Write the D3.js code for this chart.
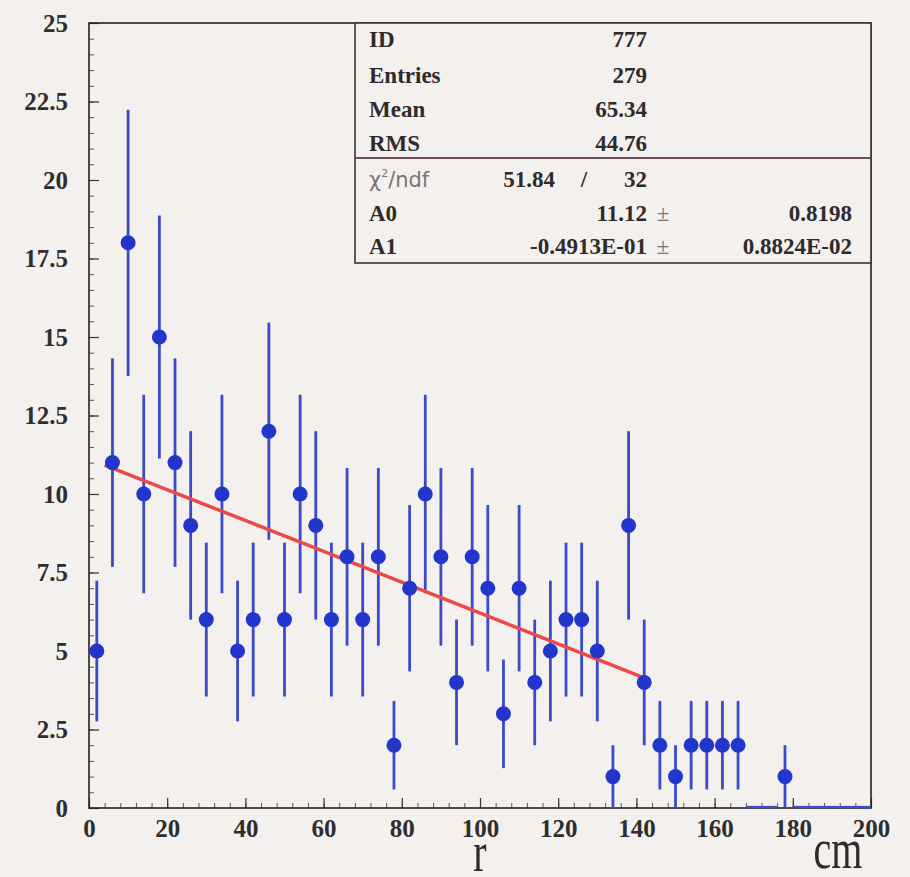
<!DOCTYPE html>
<html lang="en">
<head>
  <meta charset="UTF-8">
  <title>r distribution</title>
  <script src="https://d3js.org/d3.v7.min.js"></script>
  <style>
    html, body { margin: 0; padding: 0; background: #f4f0ed; }
    .tick text { font-family: "Liberation Serif", "Times New Roman", serif; font-weight: bold; font-size: 25px; fill: #2e2e2e; }
    .stats text { font-family: "Liberation Serif", "Times New Roman", serif; font-weight: bold; font-size: 23px; fill: #2f2a2c; }
  </style>
</head>
<body>
  <div class="canvas"></div>
  <script>
    // histogram bins (centre in cm), counts and errors
    const binCenters = [2, 6, 10, 14, 18, 22, 26, 30, 34, 38, 42, 46, 50, 54, 58, 62, 66, 70, 74, 78,
                        82, 86, 90, 94, 98, 102, 106, 110, 114, 118, 122, 126, 130, 134, 138, 142, 146, 150, 154, 158,
                        162, 166, 170, 174, 178, 182, 186, 190, 194, 198];
    const counts = [5, 11, 18, 10, 15, 11, 9, 6, 10, 5, 6, 12, 6, 10, 9, 6, 8, 6, 8, 2,
                    7, 10, 8, 4, 8, 7, 3, 7, 4, 5, 6, 6, 5, 1, 9, 4, 2, 1, 2, 2,
                    2, 2, 0, 0, 1, 0, 0, 0, 0, 0];
    const errors = [2.24, 3.32, 4.24, 3.16, 3.87, 3.32, 3.0, 2.45, 3.16, 2.24, 2.45, 3.46, 2.45, 3.16, 3.0, 2.45, 2.83, 2.45, 2.83, 1.41,
                    2.65, 3.16, 2.83, 2.0, 2.83, 2.65, 1.73, 2.65, 2.0, 2.24, 2.45, 2.45, 2.24, 1.0, 3.0, 2.0, 1.41, 1.0, 1.41, 1.41,
                    1.41, 1.41, 0, 0, 1.0, 0, 0, 0, 0, 0];
    const binWidth = 4;

    // linear fit p0 + p1*r
    const fitA0 = 11.12;
    const fitA1 = -0.04913;
    const fitRange = [4, 142];

    const xTicks = [0, 20, 40, 60, 80, 100, 120, 140, 160, 180, 200];
    const yTicks = [0, 2.5, 5, 7.5, 10, 12.5, 15, 17.5, 20, 22.5, 25];

    const statsTop = [['ID', '777'], ['Entries', '279'], ['Mean', '65.34'], ['RMS', '44.76']];
    const statsFit = [['A0', '11.12', '0.8198'], ['A1', '-0.4913E-01', '0.8824E-02']];
    const chi2 = ['51.84', '32'];

    const width = 910;
    const height = 877;
    const [mt, mb, mr, ml] = [23, 69, 39, 89];

    const svg = d3.select('.canvas')
                  .append('svg')
                  .attr('width', width)
                  .attr('height', height);

    const x = d3.scaleLinear().domain([0, 200]).range([ml, width - mr]);
    const y = d3.scaleLinear().domain([0, 25]).range([height - mb, mt]);

    // minor ticks first, majors drawn on top with labels
    svg.append('g')
       .attr('transform', `translate(${ml}, 0)`)
       .call(d3.axisLeft(y).tickValues(d3.range(0, 25.01, 0.5)).tickSize(-5).tickFormat(''))
       .call(g => g.select('.domain').remove())
       .selectAll('line').attr('stroke', '#555');

    svg.append('g')
       .attr('transform', `translate(0, ${height - mb})`)
       .call(d3.axisBottom(x).tickValues(d3.range(0, 200.01, 4)).tickSize(-5).tickFormat(''))
       .call(g => g.select('.domain').remove())
       .selectAll('line').attr('stroke', '#555');

    const yAxisG = svg.append('g')
       .attr('transform', `translate(${ml}, 0)`)
       .call(d3.axisLeft(y).tickValues(yTicks).tickSize(-10).tickPadding(21).tickFormat(d => d));
    yAxisG.select('.domain').remove();
    yAxisG.selectAll('line').attr('stroke', '#333').attr('stroke-width', 1.2);

    const xAxisG = svg.append('g')
       .attr('transform', `translate(0, ${height - mb})`)
       .call(d3.axisBottom(x).tickValues(xTicks).tickSize(-10).tickPadding(11).tickFormat(d => d));
    xAxisG.select('.domain').remove();
    xAxisG.selectAll('line').attr('stroke', '#333').attr('stroke-width', 1.2);

    // frame
    svg.append('rect')
       .attr('x', x(0)).attr('y', y(25))
       .attr('width', x(200) - x(0)).attr('height', y(0) - y(25))
       .attr('fill', 'none').attr('stroke', '#222').attr('stroke-width', 1.6);

    const bins = binCenters.map((c, i) => ({ c, n: counts[i], e: errors[i] }));

    // empty bins drawn flat along zero
    svg.append('g').selectAll('line')
       .data(bins.filter(d => d.n === 0))
       .enter().append('line')
       .attr('x1', d => x(d.c - binWidth / 2)).attr('x2', d => x(d.c + binWidth / 2))
       .attr('y1', y(0) - 1).attr('y2', y(0) - 1)
       .attr('stroke', '#3c4cd0').attr('stroke-width', 2.2);

    const filled = bins.filter(d => d.n > 0);

    svg.append('g').selectAll('line')
       .data(filled)
       .enter().append('line')
       .attr('x1', d => x(d.c)).attr('x2', d => x(d.c))
       .attr('y1', d => y(Math.max(0, d.n - d.e))).attr('y2', d => y(d.n + d.e))
       .attr('stroke', '#3a4ac8').attr('stroke-width', 2.8);

    // fit line
    const line = d3.line().x(d => x(d)).y(d => y(fitA0 + fitA1 * d));
    svg.append('path')
       .attr('d', line(fitRange))
       .attr('fill', 'none')
       .attr('stroke', '#ec4a4a')
       .attr('stroke-width', 3.5);

    svg.append('g').selectAll('circle')
       .data(filled)
       .enter().append('circle')
       .attr('cx', d => x(d.c)).attr('cy', d => y(d.n))
       .attr('r', 7.5)
       .attr('fill', '#2236cc');

    // stats box
    const boxX = 355, boxY = y(25), boxR = x(200), boxB = 263, boxMid = 158;
    const stats = svg.append('g').attr('class', 'stats');
    stats.append('rect')
         .attr('x', boxX).attr('y', boxY)
         .attr('width', boxR - boxX).attr('height', boxB - boxY)
         .attr('fill', '#f4f0ed').attr('stroke', '#3a3334').attr('stroke-width', 1.6);
    stats.append('line')
         .attr('x1', boxX).attr('x2', boxR).attr('y1', boxMid).attr('y2', boxMid)
         .attr('stroke', '#6a4a5e').attr('stroke-width', 2);

    const rowTop = [47, 83, 117, 151];
    statsTop.forEach((r, i) => {
      stats.append('text').attr('x', 369).attr('y', rowTop[i]).text(r[0]);
      stats.append('text').attr('x', 647).attr('y', rowTop[i]).attr('text-anchor', 'end').text(r[1]);
    });

    const chiRow = stats.append('text').attr('x', 369).attr('y', 187)
         .style('font-family', '"DejaVu Sans", sans-serif').style('font-weight', 'normal')
         .style('font-size', '21px').style('fill', '#7a7476');
    chiRow.append('tspan').text('χ');
    chiRow.append('tspan').attr('dy', -10).style('font-size', '11px').text('2');
    chiRow.append('tspan').attr('dy', 10).text('/ndf');
    stats.append('text').attr('x', 555).attr('y', 187).attr('text-anchor', 'end').text(chi2[0]);
    stats.append('text').attr('x', 584).attr('y', 187).attr('text-anchor', 'middle').text('/');
    stats.append('text').attr('x', 647).attr('y', 187).attr('text-anchor', 'end').text(chi2[1]);

    const rowFit = [221, 254];
    statsFit.forEach((r, i) => {
      stats.append('text').attr('x', 369).attr('y', rowFit[i]).text(r[0]);
      stats.append('text').attr('x', 647).attr('y', rowFit[i]).attr('text-anchor', 'end').text(r[1]);
      stats.append('text').attr('x', 663).attr('y', rowFit[i]).attr('text-anchor', 'middle')
           .style('font-weight', 'normal').style('fill', '#777').text('±');
      stats.append('text').attr('x', 852).attr('y', rowFit[i]).attr('text-anchor', 'end').text(r[2]);
    });

    // axis title and unit, stretched tall like the original fonts
    svg.append('text')
       .attr('transform', `translate(${x(100)}, 871) scale(1, 1.45)`)
       .attr('text-anchor', 'middle')
       .style('font-family', '"Liberation Serif", serif').style('font-size', '40px').style('fill', '#2b2b2b')
       .text('r');
    svg.append('text')
       .attr('transform', 'translate(838, 868) scale(1, 1.45)')
       .attr('text-anchor', 'middle')
       .style('font-family', '"Liberation Serif", serif').style('font-size', '40px').style('fill', '#2b2b2b')
       .text('cm');
  </script>
</body>
</html>
